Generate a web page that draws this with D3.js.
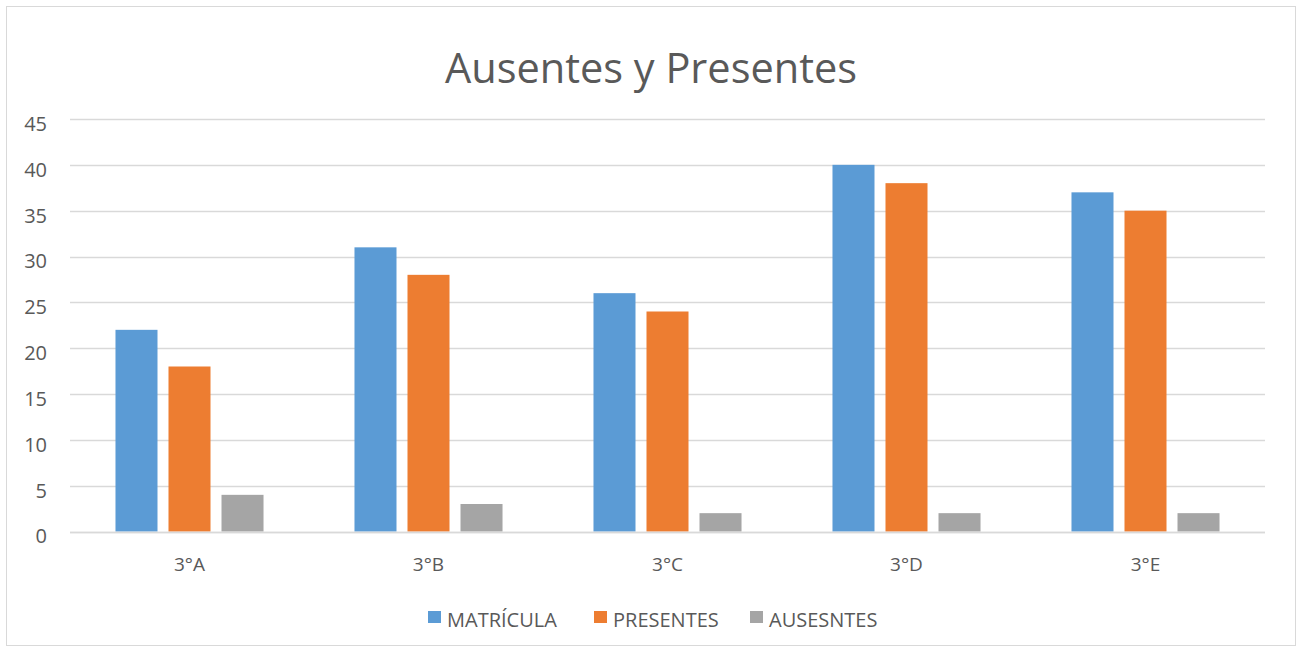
<!DOCTYPE html>
<html>
<head>
<meta charset="utf-8">
<script src="https://cdn.jsdelivr.net/npm/d3@7.9.0/dist/d3.min.js"></script>
<style>
  body { margin: 0; background: #fff; }
  svg text { font-family: "Open Sans", "Noto Sans", sans-serif; fill: #595959; }
</style>
</head>
<body>
<svg id="chart" width="1303" height="651"></svg>
<script>
// Data
const categories = ["3°A", "3°B", "3°C", "3°D", "3°E"];
const seriesNames = ["MATRÍCULA", "PRESENTES", "AUSESNTES"];
const matricula = [22, 31, 26, 40, 37];
const presentes = [18, 28, 24, 38, 35];
const ausentes = [4, 3, 2, 2, 2];
const yTicks = [0, 5, 10, 15, 20, 25, 30, 35, 40, 45];

const seriesValues = [matricula, presentes, ausentes];
const colors = d3.scaleOrdinal().domain(seriesNames).range(["#5B9BD5", "#ED7D31", "#A5A5A5"]);

const svg = d3.select("#chart");

// Outer chart border
svg.append("rect")
  .attr("x", 6.5).attr("y", 6.5)
  .attr("width", 1289).attr("height", 639)
  .attr("fill", "#fff")
  .attr("stroke", "#D9D9D9");

// Title
svg.append("text")
  .attr("x", 651).attr("y", 83)
  .attr("text-anchor", "middle")
  .style("font-size", "41.5px")
  .text("Ausentes y Presentes");

const plot = { left: 70, right: 1265, top: 119, bottom: 531.5 };

const y = d3.scaleLinear().domain([0, 45]).range([plot.bottom, plot.top]);
const x0 = d3.scaleBand().domain(categories).range([plot.left, plot.right]);
const x1 = d3.scaleBand().domain(seriesNames)
  .range([0, x0.bandwidth()])
  .paddingInner(0.2075)
  .paddingOuter(0.858);

// Gridlines
svg.append("g")
  .selectAll("line")
  .data(yTicks)
  .join("line")
  .attr("x1", plot.left).attr("x2", plot.right)
  .attr("y1", (d) => Math.round(y(d)) + 0.5)
  .attr("y2", (d) => Math.round(y(d)) + 0.5)
  .attr("stroke", "#D9D9D9")
  .attr("stroke-width", 1.3);

// Y axis labels (sit slightly below their gridline, like the original)
const yAxis = svg.append("g")
  .attr("transform", `translate(${plot.left - 23},5)`)
  .call(d3.axisLeft(y).tickValues(yTicks).tickSize(0).tickPadding(0));
yAxis.select(".domain").remove();
yAxis.selectAll("text")
  .style("font-size", "20px")
  .attr("fill", "#595959");

// Bars
const groups = svg.append("g")
  .selectAll("g")
  .data(categories)
  .join("g")
  .attr("transform", (d) => `translate(${x0(d)},0)`);

groups.selectAll("rect")
  .data((d, i) => seriesNames.map((s, j) => ({ series: s, value: seriesValues[j][i] })))
  .join("rect")
  .attr("x", (d) => x1(d.series))
  .attr("width", x1.bandwidth())
  .attr("y", (d) => y(d.value))
  .attr("height", (d) => y(0) - y(d.value))
  .attr("fill", (d) => colors(d.series));

// Zero line on top of bars
svg.append("line")
  .attr("x1", plot.left).attr("x2", plot.right)
  .attr("y1", Math.round(y(0)) + 0.5).attr("y2", Math.round(y(0)) + 0.5)
  .attr("stroke", "#D9D9D9")
  .attr("stroke-width", 1.3);

// X axis labels
const xAxis = svg.append("g")
  .attr("transform", `translate(0,${plot.bottom + 26})`)
  .call(d3.axisBottom(x0).tickSize(0).tickPadding(0));
xAxis.select(".domain").remove();
xAxis.selectAll("text")
  .style("font-size", "19px")
  .attr("fill", "#595959");

// Legend
const legendX = [428, 594, 750];
const legend = svg.append("g")
  .selectAll("g")
  .data(seriesNames)
  .join("g")
  .attr("transform", (d, i) => `translate(${legendX[i]},611)`);
legend.append("rect")
  .attr("width", 13).attr("height", 12)
  .attr("fill", (d) => colors(d));
legend.append("text")
  .attr("x", 19).attr("y", 16)
  .style("font-size", "20px")
  .text((d) => d);
</script>
</body>
</html>
